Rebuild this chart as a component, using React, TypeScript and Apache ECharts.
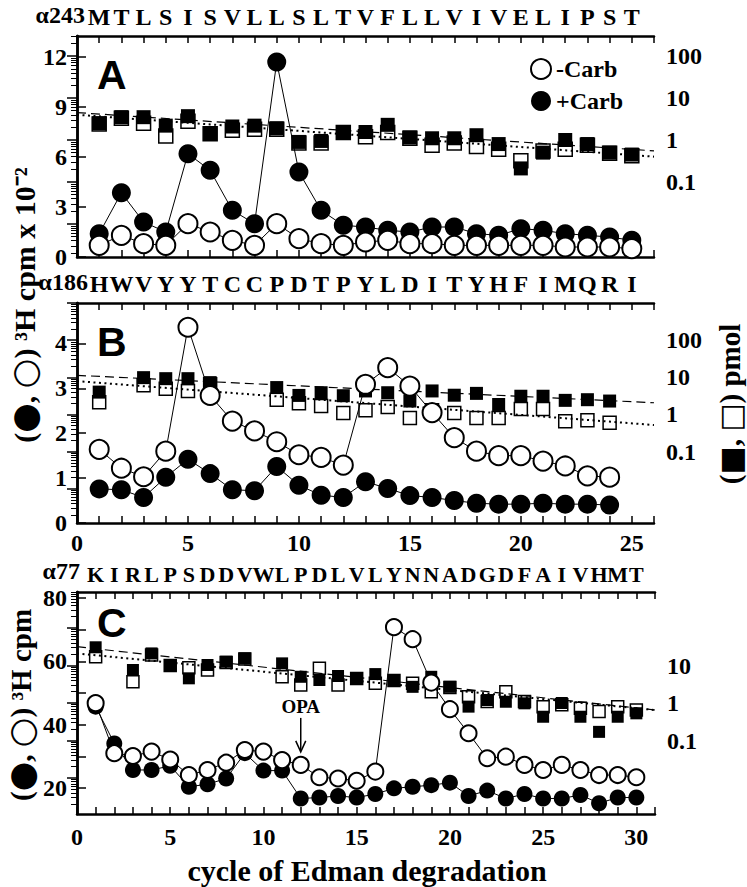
import React, { useEffect, useRef } from 'react';
import * as echarts from 'echarts';

// ---------- DATA ----------
const seqA = ['M','T','L','S','I','S','V','L','L','S','L','T','V','F','L','L','V','I','V','E','L','I','P','S','T'];
const seqB = ['H','W','V','Y','Y','T','C','C','P','D','T','P','Y','L','D','I','T','Y','H','F','I','M','Q','R','I'];
const seqC = ['K','I','R','L','P','S','D','D','V','W','L','P','D','L','V','L','Y','N','N','A','D','G','D','F','A','I','V','H','M','T'];
const prefixes = ['α243', 'α186', 'α77'];
const panelLetters = ['A', 'B', 'C'];

// Panel A (cpm x 10^-2, pmol)
const aOpenCircle = [0.7,1.3,0.8,0.7,2.0,1.5,1.0,0.7,2.0,1.1,0.8,0.7,0.9,1.0,0.8,0.8,0.7,0.7,0.7,0.7,0.7,0.6,0.6,0.6,0.5];
const aFilledCircle = [1.4,3.85,2.1,1.5,6.2,5.2,2.8,2.0,11.7,5.1,2.8,1.9,1.8,1.6,1.5,1.8,1.8,1.4,1.3,1.7,1.6,1.4,1.3,1.2,1.0];
const aFilledSquare = [2.5,3.5,3.5,2.2,3.7,1.45,2.1,2.2,1.9,0.9,0.95,1.55,1.55,2.3,1.15,1.1,1.1,1.3,0.8,0.21,0.5,1.0,0.8,0.5,0.45];
const aOpenSquare = [2.4,3.3,2.5,1.25,2.8,1.4,1.7,1.8,1.8,0.85,0.85,1.5,1.2,1.5,1.1,0.75,0.85,0.7,0.6,0.32,0.55,0.6,0.75,0.48,0.42];
const aFitFilled = [4.5, 0.55];
const aFitOpen = [4.0, 0.4];

// Panel B
const bOpenCircle = [1.64,1.22,1.03,1.6,4.36,2.84,2.27,2.05,1.81,1.52,1.46,1.29,3.09,3.46,3.05,2.46,1.9,1.6,1.5,1.5,1.38,1.27,1.05,1.02];
const bFilledCircle = [0.76,0.74,0.57,1.02,1.42,1.1,0.74,0.72,1.26,0.84,0.62,0.57,0.92,0.77,0.61,0.57,0.5,0.44,0.42,0.42,0.44,0.42,0.42,0.4];
const bFilledSquare = [4.0,null,9.8,9.2,9.2,7.2,null,null,5.3,3.26,3.85,3.2,4.3,3.85,2.3,4.3,3.3,3.7,1.86,3.1,3.1,2.4,2.5,2.3];
const bOpenSquare = [2.15,null,6.1,4.95,4.3,6.5,null,null,2.5,2.0,1.68,1.1,1.3,1.6,0.81,1.3,1.1,0.81,0.81,1.4,1.4,0.66,0.7,0.6];
const bFitFilled = [11.3, 2.07];
const bFitOpen = [7.9, 0.52];

// Panel C (cpm, pmol)
const cOpenCircle = [46.8,31.0,30.1,31.5,29.0,24.1,25.7,28.0,32.0,31.5,28.8,27.3,23.4,23.0,22.3,25.2,70.8,67.0,53.3,44.9,37.3,29.4,29.9,27.3,25.7,27.3,25.7,24.1,24.1,23.4];
const cFilledCircle = [45.7,34.1,25.7,25.7,27.0,20.4,21.2,23.0,31.0,25.5,25.5,16.7,17.0,17.5,17.0,18.1,19.9,20.4,20.9,21.7,17.5,19.2,16.7,18.1,16.7,16.7,17.8,15.2,17.0,17.0];
const cFilledSquare = [30.6,null,7.6,21,10.3,4.55,10.3,12.6,15.5,null,11.4,5.0,4.1,5.25,4.55,5.9,4.1,2.7,5.0,2.7,0.8,1.2,1.08,0.98,0.43,1.0,0.43,0.17,0.43,0.53];
const cOpenSquare = [17.2,null,3.7,19,10,8.76,7.6,12,15,null,5.0,3.0,8.4,3.0,4.5,3.35,4.0,3.35,2.0,2.6,1.47,1.1,2.0,1.1,0.8,0.9,0.72,0.59,0.8,0.65];
const cFitFilled = [31.7, 0.65];
const cFitOpen = [21, 0.65];

const leftTicksA = [0, 3, 6, 9, 12];
const leftTicksB = [0, 1, 2, 3, 4];
const leftTicksC = [20, 30, 40, 50, 60, 70, 80];
const leftLabelsC = [20, 40, 60, 80];
const logLabelsAB = [0.1, 1, 10, 100];
const logLabelsC = [0.1, 1, 10];
const bottomLabelsB = [0, 5, 10, 15, 20, 25];
const bottomLabelsC = [0, 5, 10, 15, 20, 25, 30];

// ---------- STYLE ----------
const SERIF = '"Liberation Serif", "Times New Roman", serif';
const SANS = '"Liberation Sans", Arial, sans-serif';
const SYM = '"DejaVu Sans", sans-serif';

type Panel = {
  grid: { left: number; top: number; width: number; height: number };
  xMax: number;
  yMin: number; yMax: number;
  leftTicks: number[]; leftLabels: number[];
  logMin: number; logMax: number;
  logLabels: number[];
  bottomLabels: number[] | null;
  bottomMargin: number;
  seq: string[]; seqSize: number;
  open: number[]; filled: number[];
  fSq: (number | null)[]; oSq: (number | null)[];
  fitF: number[]; fitO: number[];
  circle: number; square: number;
};

const panels: Panel[] = [
  { grid: { left: 77, top: 36, width: 577, height: 221 }, xMax: 26, yMin: 0, yMax: 13.26,
    leftTicks: leftTicksA, leftLabels: leftTicksA, logMin: Math.pow(10, -2.79), logMax: Math.pow(10, 2.48),
    logLabels: logLabelsAB, bottomLabels: null, bottomMargin: 8, seq: seqA, seqSize: 24,
    open: aOpenCircle, filled: aFilledCircle, fSq: aFilledSquare, oSq: aOpenSquare, fitF: aFitFilled, fitO: aFitOpen,
    circle: 19, square: 14 },
  { grid: { left: 77, top: 303, width: 577, height: 220 }, xMax: 26, yMin: 0, yMax: 4.9,
    leftTicks: leftTicksB, leftLabels: leftTicksB, logMin: Math.pow(10, -2.92), logMax: Math.pow(10, 3.0),
    logLabels: logLabelsAB, bottomLabels: bottomLabelsB, bottomMargin: 8, seq: seqB, seqSize: 24,
    open: bOpenCircle, filled: bFilledCircle, fSq: bFilledSquare, oSq: bOpenSquare, fitF: bFitFilled, fitO: bFitOpen,
    circle: 19, square: 13 },
  { grid: { left: 77, top: 592, width: 578, height: 222 }, xMax: 31, yMin: 11.8, yMax: 81.9,
    leftTicks: leftTicksC, leftLabels: leftLabelsC, logMin: Math.pow(10, -2.96), logMax: Math.pow(10, 2.96),
    logLabels: logLabelsC, bottomLabels: bottomLabelsC, bottomMargin: 11, seq: seqC, seqSize: 22,
    open: cOpenCircle, filled: cFilledCircle, fSq: cFilledSquare, oSq: cOpenSquare, fitF: cFitFilled, fitO: cFitOpen,
    circle: 16, square: 12 },
];

const range = (a: number, b: number) => { const r: number[] = []; for (let i = a; i <= b; i++) r.push(i); return r; };
const decades = [-4, -3, -2, -1, 0, 1, 2, 3].map((d) => Math.pow(10, d));
const minorLog: number[] = [];
decades.forEach((d) => { for (let k = 2; k <= 9; k++) minorLog.push(+(k * d).toPrecision(2)); });

const pairs = (vals: (number | null)[]) =>
  vals.map((v, i) => (v == null ? null : [i + 1, v])).filter((p) => p !== null);

const fmtLog = (v: number) => (v >= 1 ? String(Math.round(v)) : String(Number(v.toPrecision(1))));

const labelFont = { fontFamily: SERIF, fontWeight: 'bold' as const, fontSize: 24, color: '#000' };
const axisLine = { show: true, lineStyle: { color: '#000', width: 2.5 } };

export default function App() {
  const ref = useRef<HTMLDivElement>(null);
  useEffect(() => {
    if (!ref.current) return;
    const chart = echarts.init(ref.current, undefined, { renderer: 'svg' });

    const xAxis: any[] = [];
    const yAxis: any[] = [];
    const series: any[] = [];

    panels.forEach((p, pi) => {
      const ticks = range(0, p.xMax);
      xAxis.push({
        type: 'value', gridIndex: pi, position: 'bottom', min: 0, max: p.xMax,
        axisLine, splitLine: { show: false },
        axisTick: { show: true, inside: true, length: 7, customValues: ticks, lineStyle: { color: '#000', width: 1.5 } },
        axisLabel: p.bottomLabels
          ? { show: true, customValues: p.bottomLabels, margin: p.bottomMargin, ...labelFont }
          : { show: false },
      });
      // sequence letters on the top axis: odd and even cycles on two overlaid axes
      [1, 0].forEach((parity) => {
        const vals = range(1, p.seq.length).filter((v) => v % 2 === parity);
        xAxis.push({
          type: 'value', gridIndex: pi, position: 'top', min: 0, max: p.xMax,
          axisLine: parity === 1 ? axisLine : { show: false }, splitLine: { show: false },
          axisTick: parity === 1
            ? { show: true, inside: true, length: 7, customValues: ticks, lineStyle: { color: '#000', width: 1.5 } }
            : { show: false },
          axisLabel: {
            show: true, customValues: vals, margin: 7, showMinLabel: true, showMaxLabel: true,
            ...labelFont, fontSize: p.seqSize,
            formatter: (v: number) => p.seq[Math.round(v) - 1] || '',
          },
        });
      });
      yAxis.push({
        type: 'value', gridIndex: pi, position: 'left', min: p.yMin, max: p.yMax,
        axisLine, splitLine: { show: false },
        axisTick: { show: true, inside: true, length: 9, customValues: p.leftTicks, lineStyle: { color: '#000', width: 1.5 } },
        axisLabel: { show: true, customValues: p.leftLabels, margin: 10, ...labelFont },
      });
      yAxis.push({
        type: 'log', logBase: 10, gridIndex: pi, position: 'right', min: p.logMin, max: p.logMax,
        axisLine, splitLine: { show: false },
        axisTick: { show: true, inside: true, length: 10, customValues: decades, lineStyle: { color: '#000', width: 1.5 } },
        axisLabel: { show: true, customValues: p.logLabels, margin: 12, ...labelFont, formatter: fmtLog },
      });
      yAxis.push({
        type: 'log', logBase: 10, gridIndex: pi, position: 'right', min: p.logMin, max: p.logMax,
        axisLine: { show: false }, splitLine: { show: false },
        axisTick: { show: true, inside: true, length: 6, customValues: minorLog, lineStyle: { color: '#000', width: 1 } },
        axisLabel: { show: false },
      });

      const xi = pi * 3;
      const yl = pi * 3;
      const yr = pi * 3 + 1;
      series.push({
        type: 'scatter', name: 'open squares', xAxisIndex: xi, yAxisIndex: yr, z: 2,
        symbol: 'rect', symbolSize: p.square, data: pairs(p.oSq),
        itemStyle: { color: '#fff', borderColor: '#000', borderWidth: 1.5, opacity: 1 },
        emphasis: { disabled: true },
      });
      series.push({
        type: 'scatter', name: 'filled squares', xAxisIndex: xi, yAxisIndex: yr, z: 3,
        symbol: 'rect', symbolSize: p.square, data: pairs(p.fSq),
        itemStyle: { color: '#000', opacity: 1 }, emphasis: { disabled: true },
      });
      series.push({
        type: 'line', name: 'fit filled', xAxisIndex: xi, yAxisIndex: yr, z: 4, symbol: 'none',
        data: [[0, p.fitF[0]], [p.xMax, p.fitF[1]]],
        lineStyle: { color: '#000', width: 1.2, type: [9, 5] },
      });
      series.push({
        type: 'line', name: 'fit open', xAxisIndex: xi, yAxisIndex: yr, z: 4, symbol: 'none',
        data: [[0, p.fitO[0]], [p.xMax, p.fitO[1]]],
        lineStyle: { color: '#000', width: 2, type: [2, 3.5] },
      });
      series.push({
        type: 'line', name: '+Carb', xAxisIndex: xi, yAxisIndex: yl, z: 5,
        symbol: 'circle', symbolSize: p.circle, data: pairs(p.filled),
        itemStyle: { color: '#000', opacity: 1 }, lineStyle: { color: '#000', width: 1 },
        emphasis: { disabled: true },
      });
      series.push({
        type: 'line', name: '-Carb', xAxisIndex: xi, yAxisIndex: yl, z: 6,
        symbol: 'circle', symbolSize: p.circle, data: pairs(p.open),
        itemStyle: { color: '#fff', borderColor: '#000', borderWidth: 2, opacity: 1 },
        lineStyle: { color: '#000', width: 1 },
        emphasis: { disabled: true },
      });
    });

    const rich = {
      c: { fontFamily: SYM, fontSize: 34, fontWeight: 'normal' },
      s: { fontFamily: SYM, fontSize: 30, fontWeight: 'normal' },
    };
    const graphic: any[] = [];
    panels.forEach((p, pi) => {
      graphic.push({
        type: 'text', x: p.grid.left + 20, y: p.grid.top + [39, 39, 31][pi],
        style: { text: panelLetters[pi], font: `bold 41px ${SANS}`, fill: '#000', textVerticalAlign: 'middle' },
      });
      graphic.push({
        type: 'text', x: [85, 88, 80][pi], y: p.grid.top - 21,
        style: { text: prefixes[pi], font: `bold 24px ${SERIF}`, fill: '#000', textAlign: 'right', textVerticalAlign: 'middle' },
      });
    });
    graphic.push({
      type: 'text', x: 24, y: 305, rotation: Math.PI / 2,
      style: { text: '({c|●}, {c|○}) ³H cpm x 10⁻²', font: `bold 30px ${SERIF}`, fill: '#000', textAlign: 'center', textVerticalAlign: 'middle', rich },
    });
    graphic.push({
      type: 'text', x: 21, y: 705, rotation: Math.PI / 2,
      style: { text: '({c|●}, {c|○}) ³H cpm', font: `bold 29px ${SERIF}`, fill: '#000', textAlign: 'center', textVerticalAlign: 'middle', rich },
    });
    graphic.push({
      type: 'text', x: 730, y: 404, rotation: Math.PI / 2,
      style: { text: '({s|■}, {s|□}) pmol', font: `bold 29px ${SERIF}`, fill: '#000', textAlign: 'center', textVerticalAlign: 'middle', rich },
    });
    graphic.push({
      type: 'text', x: 367, y: 870,
      style: { text: 'cycle of Edman degradation', font: `bold 30px ${SERIF}`, fill: '#000', textAlign: 'center', textVerticalAlign: 'middle' },
    });

    chart.setOption({
      animation: false,
      backgroundColor: '#fff',
      grid: panels.map((p) => ({ ...p.grid, containLabel: false })),
      xAxis, yAxis, series,
      legend: {
        show: true, orient: 'vertical', left: 530, top: 57, itemWidth: 20, itemHeight: 20, itemGap: 8, padding: 0,
        selectedMode: false,
        textStyle: { fontFamily: SERIF, fontWeight: 'bold', fontSize: 24, color: '#000' },
        data: [
          { name: '-Carb', icon: 'circle', itemStyle: { color: '#fff', borderColor: '#000', borderWidth: 2 } },
          { name: '+Carb', icon: 'circle', itemStyle: { color: '#000', borderWidth: 0 } },
        ],
      },
      graphic,
    });

    // OPA annotation, anchored to cycle 12 of panel C
    const cOpenIdx = series.findIndex((s) => s.name === '-Carb' && s.xAxisIndex === 6);
    const pt = chart.convertToPixel({ seriesIndex: cOpenIdx }, [12, cOpenCircle[11]]) as number[];
    if (pt) {
      const [x, cy] = pt;
      chart.setOption({
        graphic: [
          ...graphic,
          { type: 'text', x, y: cy - 58, style: { text: 'OPA', font: `bold 19px ${SERIF}`, fill: '#000', textAlign: 'center', textVerticalAlign: 'middle' } },
          { type: 'line', shape: { x1: x, y1: cy - 47, x2: x, y2: cy - 14 }, style: { stroke: '#000', lineWidth: 1.5 } },
          { type: 'polyline', shape: { points: [[x - 5, cy - 24], [x, cy - 13], [x + 5, cy - 24]] }, style: { stroke: '#000', lineWidth: 1.5, fill: null } },
        ],
      });
    }

    return () => chart.dispose();
  }, []);
  return <div ref={ref} style={{ position: 'fixed', left: 0, top: 0, width: 747, height: 887, background: '#fff' }} />;
}
